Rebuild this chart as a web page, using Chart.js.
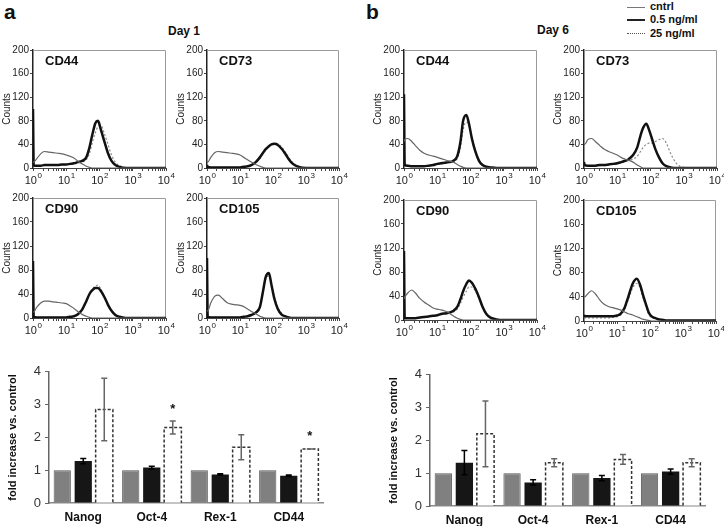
<!DOCTYPE html>
<html>
<head>
<meta charset="utf-8">
<script src="https://cdn.jsdelivr.net/npm/chart.js@4.4.1/dist/chart.umd.min.js"></script>
<style>
  body { margin: 0; background: #fff; width: 724px; height: 526px; position: relative; overflow: hidden;
         font-family: "Liberation Sans", Arial, sans-serif; color: #111; }
  canvas { position: absolute; }
  .t { position: absolute; font-weight: bold; white-space: nowrap; line-height: 1; }
  .lg { position: absolute; left: 627px; width: 18px; height: 0; }
</style>
</head>
<body>
<div class="t" style="left:4px;top:1px;font-size:21px">a</div>
<div class="t" style="left:366px;top:1px;font-size:21px">b</div>
<div class="t" style="left:168px;top:25px;font-size:12px">Day 1</div>
<div class="t" style="left:537px;top:24px;font-size:12px">Day 6</div>
<div class="lg" style="top:7px;border-top:1px solid #777"></div>
<div class="lg" style="top:19px;border-top:2.5px solid #222"></div>
<div class="lg" style="top:33px;border-top:1.5px dotted #555"></div>
<div class="t" style="left:650px;top:1px;font-size:11px">cntrl</div>
<div class="t" style="left:650px;top:14px;font-size:11px">0.5 ng/ml</div>
<div class="t" style="left:650px;top:28px;font-size:11px">25 ng/ml</div>
<script>
/* --------------- Histogram Data (fluorescence vs counts) --------------------- */
const fluor = [1, 1.05, 1.3, 1.7, 2.2, 3, 4, 5.5, 7.5, 10, 13, 17, 22, 30, 40, 50, 60, 75, 90, 110, 140, 180, 230, 300, 400, 600, 1000, 10000];
const decadeValues = [1, 10, 100, 1000, 10000];
const decadeExponents = ["0", "1", "2", "3", "4"];

const d1CD44Cntrl = [10,10,16,24,28,27,26,25,24,22,20,17,12,7,3,1,0,0,0,0,0,0,0,0,0,0,0,0];
const d1CD44Low   = [100,4,4,4,5,5,5,5,6,6,7,8,10,12,18,35,55,76,80,65,45,25,12,5,2,0,0,0];
const d1CD44High  = [8,4,4,4,5,5,5,5,5,6,6,7,8,10,14,25,42,60,70,72,58,40,22,10,4,1,0,0];

const d1CD73Cntrl = [10,10,18,26,28,27,26,25,24,22,18,14,10,6,3,1,0,0,0,0,0,0,0,0,0,0,0,0];
const d1CD73Low   = [5,2,1,1,1,1,1,1,1,1,2,3,5,10,18,26,32,37,40,41,39,33,25,15,7,2,0,0];
const d1CD73High  = [5,2,1,1,1,1,1,1,1,1,2,3,5,9,16,24,30,36,40,42,41,36,28,18,9,3,0,0];

const d1CD90Cntrl = [10,10,18,25,28,28,27,26,25,24,20,16,11,6,3,1,0,0,0,0,0,0,0,0,0,0,0,0];
const d1CD90Low   = [95,2,1,1,1,1,1,1,1,1,2,3,6,14,28,40,46,50,50,45,35,22,12,5,2,0,0,0];
const d1CD90High  = [10,2,1,1,1,1,1,1,1,1,2,3,6,13,27,40,48,53,55,48,36,22,11,4,1,0,0,0];

const d1CD105Cntrl = [12,12,25,36,38,32,26,23,22,21,19,15,11,7,3,1,0,0,0,0,0,0,0,0,0,0,0,0];
const d1CD105Low   = [100,2,1,1,1,1,1,1,1,1,2,3,5,9,18,45,68,75,55,32,15,6,3,1,0,0,0,0];
const d1CD105High  = [10,2,1,1,1,1,1,1,1,1,2,3,5,10,20,45,65,70,55,35,18,8,3,1,0,0,0,0];

const d6CD44Cntrl = [45,48,50,45,38,30,25,22,20,18,16,14,12,10,6,3,1,0,0,0,0,0,0,0,0,0,0,0];
const d6CD44Low   = [125,5,4,3,3,3,3,4,5,7,8,9,10,12,20,45,80,90,75,50,28,12,5,2,1,0,0,0];
const d6CD44High  = [10,4,3,3,3,3,3,4,5,6,7,8,9,11,16,35,65,78,72,52,30,14,6,2,1,0,0,0];

const d6CD73Cntrl = [40,40,48,50,45,38,32,28,25,22,18,15,13,10,5,2,0,0,0,0,0,0,0,0,0,0,0,0];
const d6CD73Low   = [10,5,4,4,4,5,5,6,7,8,10,12,15,22,35,55,68,75,65,50,32,18,8,3,1,0,0,0];
const d6CD73High  = [5,3,3,3,3,4,4,5,6,7,9,11,13,15,20,28,35,40,42,42,45,48,50,42,25,8,1,0];

const d6CD90Cntrl = [35,38,45,50,45,36,30,25,20,18,17,15,12,7,3,1,0,0,0,0,0,0,0,0,0,0,0,0];
const d6CD90Low   = [115,3,3,3,3,4,5,6,7,8,10,11,12,15,22,35,48,60,66,62,52,38,22,10,4,1,0,0];
const d6CD90High  = [8,3,3,3,3,4,5,6,7,8,9,10,11,13,18,28,38,48,55,55,48,36,22,10,4,1,0,0];

const d6CD105Cntrl = [40,40,45,50,45,35,28,24,22,20,18,15,12,10,7,5,3,2,1,0,0,0,0,0,0,0,0,0];
const d6CD105Low   = [10,8,8,8,8,8,8,8,8,9,12,22,40,62,70,60,45,28,15,8,5,3,2,1,1,1,1,1];
const d6CD105High  = [5,5,5,5,5,5,5,5,6,7,10,20,35,55,62,55,40,25,12,6,4,3,2,1,1,1,1,1];

/* --------------- Bar Data (fold increase vs. control) --------------------- */
const genes = ["Nanog", "Oct-4", "Rex-1", "CD44"];
const ctrlFold = [1, 1, 1, 1];
const d1LowFold = [1.28, 1.08, 0.87, 0.83];
const d1LowErr = [0.08, 0.04, 0.02, 0.02];
const d1HighFold = [2.85, 2.3, 1.7, 1.65];
const d1HighErr = [0.95, 0.2, 0.38, 0];
const d1Stars = [false, true, false, true];
const d6LowFold = [1.32, 0.72, 0.85, 1.05];
const d6LowErr = [0.37, 0.08, 0.08, 0.08];
const d6HighFold = [2.2, 1.32, 1.42, 1.32];
const d6HighErr = [1.0, 0.12, 0.15, 0.12];
const d6Stars = [false, false, false, false];

const FONT = '"Liberation Sans", Arial, sans-serif';

/* --------------- Helpers --------------------- */
const addCanvas = (left, top, w, h) => {
  const c = document.createElement("canvas");
  c.width = w; c.height = h;
  c.style.left = left + "px"; c.style.top = top + "px";
  document.body.appendChild(c);
  return c;
};

const logTicks = [];
for (let e = 0; e < 4; e++) for (let m = 1; m < 10; m++) logTicks.push(m * Math.pow(10, e));
logTicks.push(10000);

/* box on top/right, panel name and 10^n labels */
const boxPlugin = (name) => ({
  id: "box",
  beforeDatasetsDraw(chart) {
    const { ctx, chartArea: a } = chart;
    ctx.save();
    ctx.strokeStyle = "#9a9a9a"; ctx.lineWidth = 1;
    ctx.beginPath();
    ctx.moveTo(a.left, a.top + 0.5); ctx.lineTo(a.right - 0.5, a.top + 0.5); ctx.lineTo(a.right - 0.5, a.bottom);
    ctx.stroke();
    ctx.fillStyle = "#111"; ctx.font = "bold 13px " + FONT;
    ctx.textBaseline = "middle";
    ctx.fillText(name, a.left + 12, a.top + 11);
    ctx.restore();
  },
  afterDraw(chart) {
    const { ctx, chartArea: a, scales: { x } } = chart;
    ctx.save();
    ctx.fillStyle = "#222";
    ctx.textBaseline = "alphabetic";
    decadeValues.forEach((v, i) => {
      const px = x.getPixelForValue(v);
      ctx.font = "11px " + FONT;
      const w1 = ctx.measureText("10").width;
      ctx.font = "8px " + FONT;
      const w2 = ctx.measureText(decadeExponents[i]).width;
      const start = px - (w1 + w2) / 2;
      ctx.font = "11px " + FONT;
      ctx.fillText("10", start, a.bottom + 16);
      ctx.font = "8px " + FONT;
      ctx.fillText(decadeExponents[i], start + w1 + 0.5, a.bottom + 10);
    });
    ctx.restore();
  },
});

/* --------------- Histogram Chart --------------------- */
const histogram = (box, name, cntrl, low, high) => {
  const [L, T, R, B] = box;
  const cv = addCanvas(L - 33, T - 9, R - L + 43, B - T + 26);
  const pts = (arr) => fluor.map((x, i) => ({ x: x, y: arr[i] }));
  new Chart(cv, {
    type: "line",
    data: {
      datasets: [
        { label: "cntrl", data: pts(cntrl), borderColor: "#666", borderWidth: 1.2 },
        { label: "0.5 ng/ml", data: pts(low), borderColor: "#111", borderWidth: 2.5 },
        { label: "25 ng/ml", data: pts(high), borderColor: "#888", borderWidth: 1.2, borderDash: [2, 2] },
      ],
    },
    options: {
      responsive: false,
      animation: false,
      layout: { padding: { top: 9, right: 10, left: 0, bottom: 0 } },
      elements: { point: { radius: 0 }, line: { cubicInterpolationMode: "monotone" } },
      plugins: { legend: { display: false }, tooltip: { enabled: false } },
      scales: {
        x: {
          type: "logarithmic", min: 1, max: 10000,
          afterBuildTicks: (s) => { s.ticks = logTicks.map((v) => ({ value: v })); },
          ticks: { autoSkip: false, maxRotation: 0, padding: 2, font: { family: FONT, size: 11 }, callback: () => "" },
          grid: { drawOnChartArea: false, tickLength: 3, color: "#444" },
          border: { color: "#444", width: 1 },
          afterFit: (s) => { s.height = 17; },
        },
        y: {
          min: 0, max: 200,
          ticks: { stepSize: 40, padding: 1, color: "#222", font: { family: FONT, size: 10 } },
          grid: { drawOnChartArea: false, tickLength: 3, color: "#444" },
          border: { color: "#222", width: 1.5 },
          title: { display: true, text: "Counts", color: "#222", font: { family: FONT, size: 10 }, padding: { top: 1, bottom: 0 } },
          afterFit: (s) => { s.width = 33; },
        },
      },
    },
    plugins: [boxPlugin(name)],
  });
};

/* --------------- Bar Chart Error Bars / Dashed Bars --------------------- */
const errorBars = (lowErr, highErr, stars) => ({
  id: "errorBars",
  afterDatasetsDraw(chart) {
    const { ctx, scales: { y } } = chart;
    ctx.save();
    const dashed = chart.getDatasetMeta(2);
    ctx.setLineDash([3, 2]); ctx.strokeStyle = "#333"; ctx.lineWidth = 1.5;
    dashed.data.forEach((bar) => {
      const l = bar.x - bar.width / 2, r = bar.x + bar.width / 2;
      ctx.beginPath();
      ctx.moveTo(l, bar.base); ctx.lineTo(l, bar.y); ctx.lineTo(r, bar.y); ctx.lineTo(r, bar.base);
      ctx.stroke();
    });
    ctx.setLineDash([]);
    const drawErr = (meta, vals, errs, color) => {
      ctx.strokeStyle = color; ctx.lineWidth = 1.5;
      meta.data.forEach((bar, i) => {
        const v = vals[i], e = errs[i];
        const top = y.getPixelForValue(v + e), bot = y.getPixelForValue(v - e);
        ctx.beginPath();
        ctx.moveTo(bar.x, top); ctx.lineTo(bar.x, bot);
        ctx.moveTo(bar.x - 3, top); ctx.lineTo(bar.x + 3, top);
        ctx.moveTo(bar.x - 3, bot); ctx.lineTo(bar.x + 3, bot);
        ctx.stroke();
      });
    };
    drawErr(chart.getDatasetMeta(1), chart.data.datasets[1].data, lowErr, "#000");
    drawErr(dashed, chart.data.datasets[2].data, highErr, "#666");
    ctx.fillStyle = "#111"; ctx.font = "bold 13px " + FONT; ctx.textAlign = "center"; ctx.textBaseline = "middle";
    dashed.data.forEach((bar, i) => {
      if (!stars[i]) return;
      const v = chart.data.datasets[2].data[i] + highErr[i];
      ctx.fillText("*", bar.x, y.getPixelForValue(v) - 12);
    });
    ctx.restore();
  },
});

const barChart = (box, low, lowErr, high, highErr, stars) => {
  const [L, T, R, B] = box;
  const cv = addCanvas(L - 49, T - 8, R - L + 59, 526 - (T - 8));
  new Chart(cv, {
    type: "bar",
    data: {
      labels: genes,
      datasets: [
        { label: "cntrl", data: ctrlFold, backgroundColor: "#808080", borderColor: "#5a5a5a", borderWidth: 1 },
        { label: "0.5 ng/ml", data: low, backgroundColor: "#161616" },
        { label: "25 ng/ml", data: high, backgroundColor: "#ffffff" },
      ],
    },
    options: {
      responsive: false,
      animation: false,
      layout: { padding: { top: 8, right: 10, left: 0, bottom: 0 } },
      datasets: { bar: { categoryPercentage: 0.92, barPercentage: 0.82 } },
      plugins: { legend: { display: false }, tooltip: { enabled: false } },
      scales: {
        x: {
          grid: { display: false, drawTicks: false, tickLength: 0 },
          border: { color: "#8a8a8a", width: 1.5 },
          ticks: { padding: 7, color: "#111", font: { family: FONT, size: 12, weight: "bold" } },
          afterFit: (s) => { s.height = 526 - B; },
        },
        y: {
          min: 0, max: 4,
          ticks: { stepSize: 1, padding: 4, color: "#333", font: { family: FONT, size: 13 } },
          grid: { drawOnChartArea: false, tickLength: 4, color: "#666" },
          border: { color: "#666", width: 1.5 },
          title: { display: true, text: "fold increase vs. control", color: "#111",
                   font: { family: FONT, size: 11, weight: "bold" }, padding: { top: 6, bottom: 0 } },
          afterFit: (s) => { s.width = 49; },
        },
      },
    },
    plugins: [errorBars(lowErr, highErr, stars)],
  });
};

/* --------------- Panels --------------------- */
histogram([33, 50, 166, 168], "CD44", d1CD44Cntrl, d1CD44Low, d1CD44High);
histogram([207, 50, 339, 168], "CD73", d1CD73Cntrl, d1CD73Low, d1CD73High);
histogram([33, 198, 166, 318], "CD90", d1CD90Cntrl, d1CD90Low, d1CD90High);
histogram([207, 198, 339, 318], "CD105", d1CD105Cntrl, d1CD105Low, d1CD105High);
histogram([404, 50, 537, 168], "CD44", d6CD44Cntrl, d6CD44Low, d6CD44High);
histogram([584, 50, 717, 168], "CD73", d6CD73Cntrl, d6CD73Low, d6CD73High);
histogram([404, 200, 537, 320], "CD90", d6CD90Cntrl, d6CD90Low, d6CD90High);
histogram([584, 200, 716, 321], "CD105", d6CD105Cntrl, d6CD105Low, d6CD105High);

barChart([49, 368, 323, 503], d1LowFold, d1LowErr, d1HighFold, d1HighErr, d1Stars);
barChart([430, 371, 705, 506], d6LowFold, d6LowErr, d6HighFold, d6HighErr, d6Stars);
</script>
</body>
</html>
